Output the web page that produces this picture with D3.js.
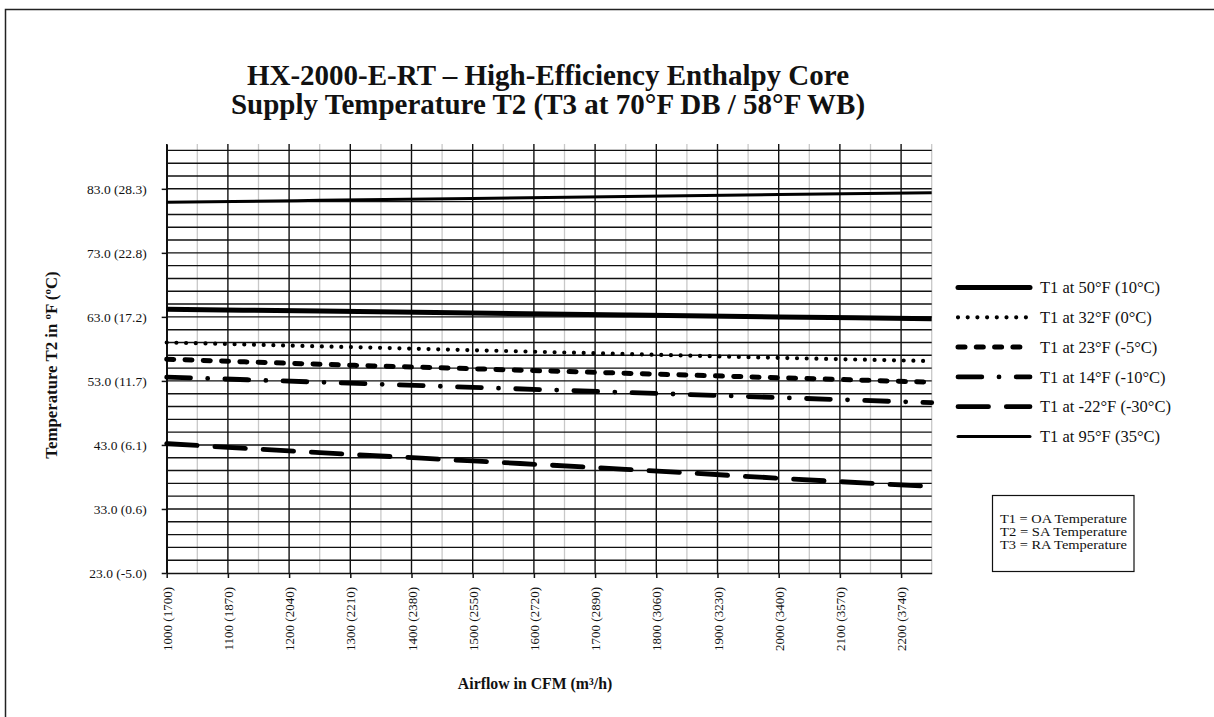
<!DOCTYPE html>
<html><head><meta charset="utf-8">
<script src="https://cdn.jsdelivr.net/npm/d3@7"></script>
<style>body{margin:0;background:#fff;} svg{display:block;font-family:"Liberation Serif","Times New Roman",serif;}</style>
</head><body>
<script>
const airflow = [1000, 1250, 1500, 1750, 2000, 2250];
const xTickValues = [1000,1100,1200,1300,1400,1500,1600,1700,1800,1900,2000,2100,2200];
const xTickLabels = ["1000 (1700)","1100 (1870)","1200 (2040)","1300 (2210)","1400 (2380)","1500 (2550)","1600 (2720)","1700 (2890)","1800 (3060)","1900 (3230)","2000 (3400)","2100 (3570)","2200 (3740)"];
const yTickValues = [23,33,43,53,63,73,83];
const yTickLabels = ["23.0 (-5.0)","33.0 (0.6)","43.0 (6.1)","53.0 (11.7)","63.0 (17.2)","73.0 (22.8)","83.0 (28.3)"];
const seriesNames = ["T1 at 50°F (10°C)","T1 at 32°F (0°C)","T1 at 23°F (-5°C)","T1 at 14°F (-10°C)","T1 at -22°F (-30°C)","T1 at 95°F (35°C)"];
const t1_50 = [64.2, 63.9, 63.6, 63.3, 63.0, 62.7];
const t1_32 = [59.0, 58.4, 57.8, 57.2, 56.6, 56.1];
const t1_23 = [56.4, 55.6, 54.9, 54.2, 53.5, 52.8];
const t1_14 = [53.6, 52.8, 52.0, 51.2, 50.4, 49.6];
const t1_m22 = [43.2, 41.8, 40.5, 39.2, 37.8, 36.5];
const t1_95 = [80.9, 81.2, 81.5, 81.8, 82.1, 82.4];
const noteLines = ["T1 = OA Temperature","T2 = SA Temperature","T3 = RA Temperature"];

const seriesData = [t1_50, t1_32, t1_23, t1_14, t1_m22, t1_95];
const styles = [
  {w:5, dash:null, cap:"butt"},
  {w:4.2, dash:"0,9.7", cap:"round"},
  {w:5, dash:"7,11.3", cap:"round"},
  {w:4.8, dash:"23.8,17.2,0,17.2", cap:"round"},
  {w:4.8, dash:"30.5,17.8", cap:"round"},
  {w:3, dash:null, cap:"butt"}
];

const W=1214, H=717;
const svg = d3.select("body").append("svg").attr("width",W).attr("height",H);
svg.append("rect").attr("x",5.5).attr("y",9.5).attr("width",W+20).attr("height",H+20).attr("fill","none").attr("stroke","#222").attr("stroke-width",1.5);

const x = d3.scaleLinear().domain([1000,2250]).range([166.7,931.7]);
const y = d3.scaleLinear().domain([23,90]).range([573,144]);

const g = svg.append("g");
g.selectAll(".vmin").data(d3.range(1050,2251,100)).enter().append("line")
  .attr("x1",d=>x(d)).attr("x2",d=>x(d)).attr("y1",144).attr("y2",573)
  .attr("stroke","#c8c8c8").attr("stroke-width",1.3);
g.selectAll(".vmaj").data(xTickValues).enter().append("line")
  .attr("x1",d=>x(d)).attr("x2",d=>x(d)).attr("y1",144).attr("y2",573)
  .attr("stroke","#111").attr("stroke-width",1.4);
g.selectAll(".h").data(d3.range(25,90,2)).enter().append("line")
  .attr("x1",x(1000)).attr("x2",x(2250)).attr("y1",d=>y(d)).attr("y2",d=>y(d))
  .attr("stroke","#111").attr("stroke-width",1.4);

const xAxis = d3.axisBottom(x).tickValues(xTickValues).tickFormat((d,i)=>xTickLabels[i]).tickSize(5).tickSizeOuter(0);
const xg = svg.append("g").attr("transform","translate(0,573)").call(xAxis);
xg.select(".domain").attr("stroke","#111").attr("stroke-width",1.6);
xg.selectAll(".tick line").attr("stroke","#111").attr("stroke-width",1.5);
xg.selectAll(".tick text").attr("font-family","Liberation Serif").attr("font-size",13).attr("fill","#111")
  .attr("transform","rotate(-90)").attr("text-anchor","end").attr("x",-14).attr("y",0).attr("dy","0.35em");

const yAxis = d3.axisLeft(y).tickValues(yTickValues).tickFormat((d,i)=>yTickLabels[i]).tickSize(5).tickSizeOuter(0);
const yg = svg.append("g").attr("transform","translate(166.7,0)").call(yAxis);
yg.select(".domain").attr("stroke","#111").attr("stroke-width",1.6);
yg.selectAll(".tick line").attr("stroke","#111").attr("stroke-width",1.5);
yg.selectAll(".tick text").attr("font-family","Liberation Serif").attr("font-size",13.5).attr("fill","#111").attr("x",-20);

const line = d3.line().x((d,i)=>x(airflow[i])).y(d=>y(d)).curve(d3.curveMonotoneX);
seriesData.forEach((s,k)=>{
  const st = styles[k];
  const p = svg.append("path").datum(s).attr("d",line).attr("fill","none").attr("stroke","#000")
    .attr("stroke-width",st.w).attr("stroke-linecap",st.cap);
  if(st.dash) p.attr("stroke-dasharray",st.dash);
});

const lg = svg.append("g");
seriesNames.forEach((n,k)=>{
  const yy = 287.5 + k*29.8;
  const st = styles[k];
  const l = lg.append("line").attr("x1",958).attr("x2",1030).attr("y1",yy).attr("y2",yy)
    .attr("stroke","#000").attr("stroke-width",st.w).attr("stroke-linecap",st.cap==="butt"?"round":st.cap);
  if(st.dash) l.attr("stroke-dasharray",st.dash);
  lg.append("text").attr("x",1040).attr("y",yy).attr("dy","0.35em").attr("font-size",16.5).attr("fill","#111").text(n);
});

svg.append("rect").attr("x",992.5).attr("y",495.5).attr("width",141.5).attr("height",76).attr("fill","none").attr("stroke","#111").attr("stroke-width",1.2);
noteLines.forEach((t,i)=>{
  svg.append("text").attr("x",1000).attr("y",518.5+i*13).attr("dy","0.33em").attr("font-size",12.6)
    .attr("textLength",127).attr("lengthAdjust","spacingAndGlyphs").attr("fill","#111").text(t);
});

svg.append("text").attr("x",548).attr("y",75).attr("dy","0.35em").attr("text-anchor","middle").attr("font-weight","bold").attr("font-size",29).attr("fill","#111")
  .text("HX-2000-E-RT – High-Efficiency Enthalpy Core");
svg.append("text").attr("x",548).attr("y",104).attr("dy","0.35em").attr("text-anchor","middle").attr("font-weight","bold").attr("font-size",29).attr("fill","#111")
  .text("Supply Temperature T2 (T3 at 70°F DB / 58°F WB)");
svg.append("text").attr("transform","translate(51,365) rotate(-90)").attr("dy","0.35em").attr("text-anchor","middle").attr("font-weight","bold").attr("font-size",16.8).attr("fill","#111")
  .text("Temperature T2 in ºF (ºC)");
svg.append("text").attr("x",535).attr("y",683).attr("dy","0.35em").attr("text-anchor","middle").attr("font-weight","bold").attr("font-size",15.8).attr("fill","#111")
  .text("Airflow in CFM (m³/h)");
</script>
</body></html>
